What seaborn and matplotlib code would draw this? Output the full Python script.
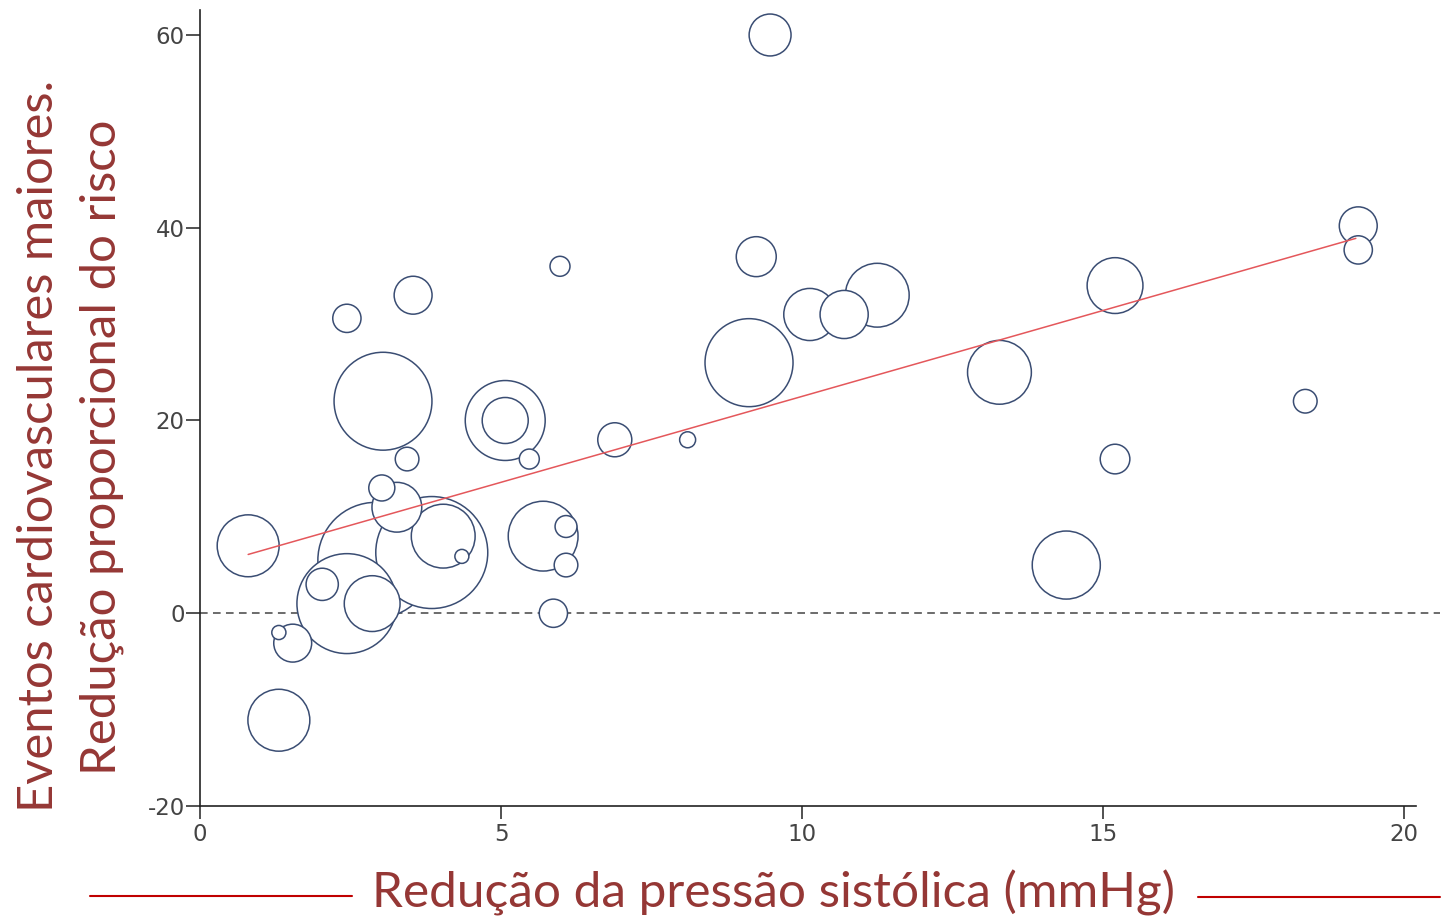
import numpy as np
import pandas as pd
import matplotlib
matplotlib.use("Agg")
import matplotlib.pyplot as plt
from matplotlib import font_manager
from matplotlib.lines import Line2D
import seaborn as sns

# ensaios: redução da PAS (mmHg), redução proporcional do risco (%), peso do estudo
reducao_pas = [9.47, 19.24, 19.24, 9.24, 5.98, 3.54, 2.44, 11.25, 10.70, 10.13,
               15.20, 9.12, 13.28, 3.04, 5.07, 5.07, 18.36, 6.89, 8.10, 3.44,
               5.47, 15.20, 3.02, 3.27, 0.80, 4.04, 3.85, 2.92, 4.35, 2.44,
               2.03, 2.86, 6.08, 5.70, 6.08, 5.87, 1.31, 1.54, 1.31, 14.39]
reducao_risco = [60.0, 40.2, 37.7, 37.0, 36.0, 33.0, 30.6, 33.0, 31.0, 31.0,
                 34.0, 26.0, 25.0, 22.0, 20.0, 20.0, 22.0, 18.0, 18.0, 16.0,
                 16.0, 16.0, 13.0, 11.0, 7.0, 8.0, 6.3, 5.5, 5.9, 1.0,
                 3.0, 1.0, 9.0, 8.0, 5.0, 0.0, -2.0, -3.1, -11.1, 5.0]
peso = [44, 36, 20, 40, 10, 36, 20, 102, 58, 68,
        78, 194, 102, 240, 160, 53, 14, 29, 6.4, 14,
        10, 22, 17, 62, 96, 102, 314, 336, 4.9, 250,
        26, 78, 12, 122, 14, 20, 5, 36, 96, 116]

# reta de meta-regressão
reta_x = [0.8, 19.2]
reta_y = [6.1, 38.9]

xticks = [0, 5, 10, 15, 20]
yticks = [-20, 0, 20, 40, 60]

titulo_x = "Redução da pressão sistólica (mmHg)"
titulo_y1 = "Eventos cardiovasculares maiores."
titulo_y2 = "Redução proporcional do risco"

VERMELHO = "#953735"
AZUL = "#3a4d73"


def tem_fonte(nome):
    try:
        font_manager.findfont(font_manager.FontProperties(family=nome),
                              fallback_to_default=False)
        return True
    except ValueError:
        return False


fonte_y = "Liberation Sans Narrow" if tem_fonte("Liberation Sans Narrow") else "Lato"
fonte_x = "Lato" if tem_fonte("Lato") else "DejaVu Sans"

df = pd.DataFrame({"pas": reducao_pas, "risco": reducao_risco, "peso": peso})
df = df.sort_values("peso", ascending=False)  # grandes por baixo

sns.set_style("white")
plt.rcParams["font.family"] = ["DejaVu Sans"]
plt.rcParams["axes.unicode_minus"] = False

W, H = 1442, 919
fig = plt.figure(figsize=(W / 100, H / 100), dpi=100)
ax = fig.add_axes([200 / W, (H - 806) / H, 1240 / W, 796 / H])

escala = 20.7  # pt^2 por unidade de peso
sns.scatterplot(data=df, x="pas", y="risco", size="peso",
                sizes=(escala * df.peso.min(), escala * df.peso.max()),
                size_norm=(df.peso.min(), df.peso.max()),
                color="white", edgecolor=AZUL, linewidth=1.1,
                legend=False, ax=ax, zorder=2)
sns.lineplot(x=reta_x, y=reta_y, color="#e4575b", linewidth=1.1, ax=ax, zorder=3)
ax.axhline(0, color="#444444", linewidth=1.1, linestyle=(0, (5, 3.5)), zorder=1)

ax.set_xlim(0, 1240 / 60.2)
ax.set_ylim(-20, 60 + 25 / 9.64)
ax.set_xticks(xticks)
ax.set_yticks(yticks)
ax.set_xlabel("")
ax.set_ylabel("")
for s in ["top", "right"]:
    ax.spines[s].set_visible(False)
for s in ["left", "bottom"]:
    ax.spines[s].set_color("#222222")
    ax.spines[s].set_linewidth(1.2)
ax.spines["bottom"].set_bounds(0, 20.2)
ax.tick_params(axis="y", length=10, width=1.1, pad=1, color="#222222",
               labelsize=16.5, labelcolor="#444444", left=True)
ax.tick_params(axis="x", length=9, width=1.1, pad=3, color="#222222",
               labelsize=16.5, labelcolor="#444444", bottom=True)

# títulos
ty1 = fig.text(53 / W, 1 - 446 / H, titulo_y1, rotation=90, rotation_mode="anchor",
               ha="center", va="baseline", color=VERMELHO, family=fonte_y, fontsize=30)
ty2 = fig.text(115 / W, 1 - 447 / H, titulo_y2, rotation=90, rotation_mode="anchor",
               ha="center", va="baseline", color=VERMELHO, family=fonte_y, fontsize=30)
tx = fig.text(774 / W, 1 - 908 / H, titulo_x, ha="center", va="baseline",
              color=VERMELHO, family=fonte_x, fontsize=30)

fig.canvas.draw()
rend = fig.canvas.get_renderer()
for t, alvo in [(ty1, 732), (ty2, 655), (tx, 802)]:
    ext = t.get_window_extent(rend)
    comp = max(ext.width, ext.height)
    t.set_fontsize(t.get_fontsize() * alvo / comp)

# traços vermelhos ao lado do título do eixo x
fig.add_artist(Line2D([90 / W, 352 / W], [1 - 896 / H, 1 - 896 / H],
                      color="#c00000", linewidth=1.5))
fig.add_artist(Line2D([1198 / W, 1440 / W], [1 - 897 / H, 1 - 897 / H],
                      color="#c00000", linewidth=1.5))

fig.savefig("out.png", dpi=100, facecolor="white")
